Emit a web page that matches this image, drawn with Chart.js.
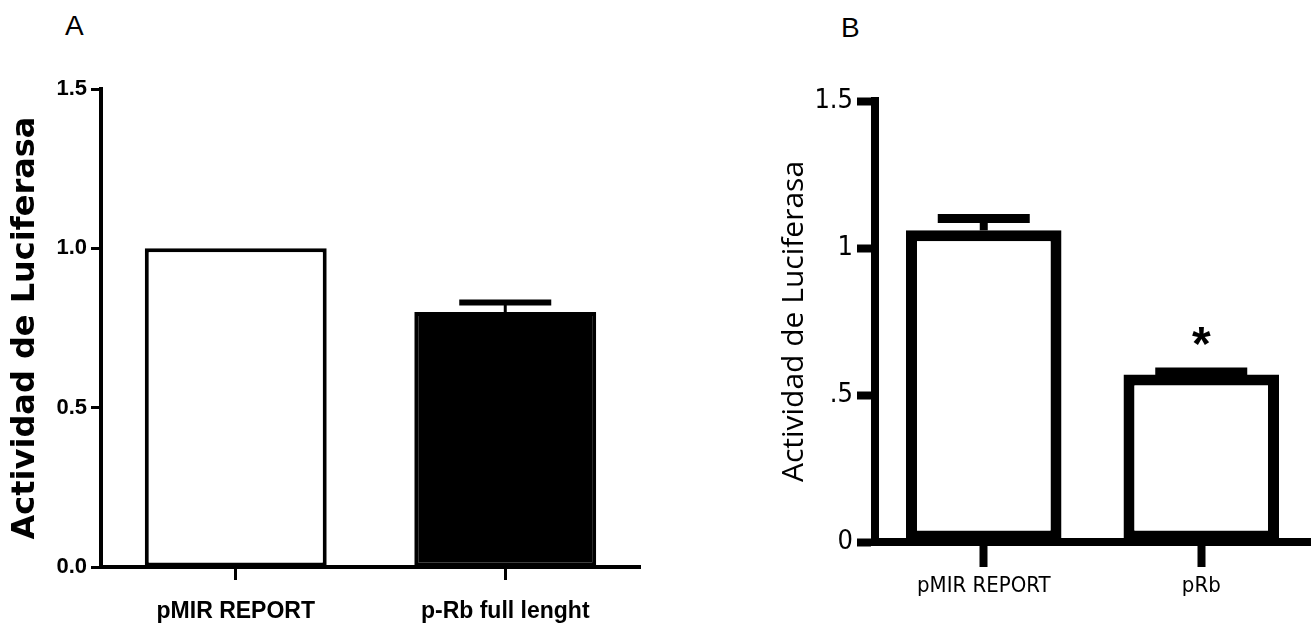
<!DOCTYPE html>
<html>
<head>
<meta charset="utf-8">
<script src="https://cdn.jsdelivr.net/npm/chart.js@4.4.1/dist/chart.umd.min.js"></script>
<style>
  body { margin: 0; background: #fff; }
  #wrap { position: relative; width: 1312px; height: 630px; overflow: hidden; }
  .panel { position: absolute; top: 0; }
  .tag { position: absolute; font-family: 'Liberation Sans', Arial, sans-serif; font-size: 28px; line-height: 1; color: #000; }
</style>
</head>
<body>
<div id="wrap">
  <div class="tag" style="left:65px; top:12px;">A</div>
  <div class="tag" style="left:841px; top:14px;">B</div>
  <canvas class="panel" id="chartA" width="660" height="630" style="left:0px;"></canvas>
  <canvas class="panel" id="chartB" width="652" height="630" style="left:660px;"></canvas>
</div>
<script>
// panel A
let labelsA = ['pMIR REPORT', 'p-Rb full lenght'];
let valuesA = [1.0, 0.80];
let errorsA = [0, 0.03];
let fillA = ['#ffffff', '#000000'];
let ticksA = ['0.0', '0.5', '1.0', '1.5'];

// panel B
let labelsB = ['pMIR REPORT', 'pRb'];
let valuesB = [1.06, 0.57];
let errorsB = [0.04, 0.008];
let marksB = ['', '*'];
let ticksB = ['0', '.5', '1', '1.5'];

let yTitle = 'Actividad de Luciferasa';

const arialLike = "'Liberation Sans', Arial, sans-serif";
const condensed = "'DejaVu Sans Condensed', 'Liberation Sans', sans-serif";

// draws error bars (and significance marks) from the y scale
const errorBarPlugin = {
    id: 'errorBars',
    afterDatasetsDraw: (chart, args, opts) => {
        var ctx = chart.ctx;
        var yScale = chart.scales.y;
        var meta = chart.getDatasetMeta(0);
        var values = chart.data.datasets[0].data;
        ctx.save();
        ctx.strokeStyle = '#000';
        ctx.fillStyle = '#000';
        for (var i = 0; i < values.length; i++) {
            var x = meta.data[i].x;
            var err = opts.errors[i] || 0;
            var yBar = yScale.getPixelForValue(values[i]);
            var yTop = yScale.getPixelForValue(values[i] + err);
            if (err > 0) {
                ctx.lineWidth = opts.stem;
                ctx.beginPath();
                ctx.moveTo(x, yBar);
                ctx.lineTo(x, yTop);
                ctx.stroke();
                ctx.lineWidth = opts.cap;
                ctx.beginPath();
                ctx.moveTo(x - opts.capWidth / 2, yTop);
                ctx.lineTo(x + opts.capWidth / 2, yTop);
                ctx.stroke();
            }
            if (opts.marks && opts.marks[i]) {
                ctx.font = opts.markFont;
                ctx.textAlign = 'center';
                ctx.textBaseline = 'alphabetic';
                ctx.fillText(opts.marks[i], x, yTop - opts.markGap);
            }
        }
        ctx.restore();
    }
};

const makeChart = (id, labels, values, fills, tickText, cfg) => {
    var ctx = document.getElementById(id).getContext('2d');
    return new Chart(ctx, {
        type: 'bar',
        data: {
            labels: labels,
            datasets: [{
                data: values,
                backgroundColor: fills,
                borderColor: '#000',
                borderWidth: cfg.barBorder,
                borderSkipped: false,
                categoryPercentage: 1,
                barPercentage: cfg.barPct
            }]
        },
        plugins: [errorBarPlugin],
        options: {
            responsive: false,
            animation: false,
            layout: { padding: cfg.padding },
            plugins: {
                legend: { display: false },
                tooltip: { enabled: false },
                errorBars: cfg.errorBars
            },
            scales: {
                x: {
                    afterFit: scale => { scale.height = cfg.xHeight; },
                    grid: {
                        offset: false,
                        drawOnChartArea: false,
                        drawTicks: true,
                        tickLength: cfg.xTickLen,
                        tickWidth: cfg.xTickWidth,
                        color: '#000'
                    },
                    border: { display: true, color: '#000', width: cfg.axisWidth },
                    ticks: { color: '#000', padding: cfg.xLabelPad, font: cfg.xFont, maxRotation: 0 }
                },
                y: {
                    min: 0,
                    max: 1.5,
                    afterFit: scale => { scale.width = cfg.yWidth; },
                    grid: {
                        drawOnChartArea: false,
                        drawTicks: true,
                        tickLength: cfg.yTickLen,
                        tickWidth: cfg.yTickWidth,
                        color: '#000'
                    },
                    border: { display: true, color: '#000', width: cfg.axisWidth },
                    ticks: {
                        stepSize: 0.5,
                        color: '#000',
                        padding: 4,
                        font: cfg.yFont,
                        callback: (v, i) => tickText[i]
                    },
                    title: {
                        display: true,
                        text: yTitle,
                        color: '#000',
                        font: cfg.titleFont,
                        padding: { top: cfg.titlePad, bottom: 0 }
                    }
                }
            }
        }
    });
};

makeChart('chartA', labelsA, valuesA, fillA, ticksA, {
    barBorder: 4,
    barPct: 0.675,
    padding: { top: 89, right: 20, left: 0, bottom: 0 },
    xHeight: 63,
    yWidth: 101,
    axisWidth: 4,
    xTickLen: 13,
    xTickWidth: 3,
    yTickLen: 10,
    yTickWidth: 3,
    xLabelPad: 18,
    xFont: { family: arialLike, size: 23, weight: 'bold' },
    yFont: { family: arialLike, size: 22, weight: 'bold' },
    titleFont: { family: "'DejaVu Sans', sans-serif", size: 32, weight: 'bold' },
    titlePad: 6,
    errorBars: { errors: errorsA, capWidth: 92, cap: 6, stem: 3 }
});

makeChart('chartB', labelsB, valuesB, ['#ffffff', '#ffffff'], ticksB, {
    barBorder: 11,
    barPct: 0.715,
    padding: { top: 101, right: 2, left: 0, bottom: 0 },
    xHeight: 88,
    yWidth: 215,
    axisWidth: 8,
    xTickLen: 25,
    xTickWidth: 8,
    yTickLen: 18,
    yTickWidth: 8,
    xLabelPad: 6,
    xFont: { family: condensed, size: 22 },
    yFont: { family: condensed, size: 27 },
    titleFont: { family: "'Open Sans', sans-serif", size: 30 },
    titlePad: 116,
    errorBars: { errors: errorsB, capWidth: 92, cap: 9, stem: 8, marks: marksB, markFont: "bold 48px 'Liberation Sans', sans-serif", markGap: 12 }
});
</script>
</body>
</html>
